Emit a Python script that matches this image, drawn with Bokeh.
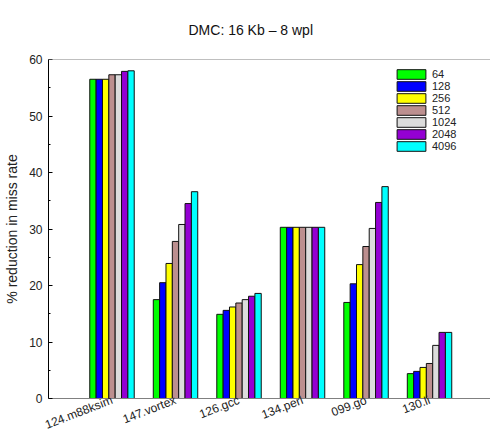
from bokeh.plotting import figure
from bokeh.models import Range1d, FixedTicker, Span, Legend, LegendItem, Title
from bokeh.embed import file_html
from bokeh.resources import INLINE

title_text = "DMC: 16 Kb \u2013 8 wpl"
benchmarks = ["124.m88ksim", "147.vortex", "126.gcc", "134.perl", "099.go", "130.li"]
sizes = ["64", "128", "256", "512", "1024", "2048", "4096"]
v64 = [56.5, 17.5, 14.9, 30.3, 17.0, 4.4]
v128 = [56.5, 20.5, 15.6, 30.3, 20.3, 4.8]
v256 = [56.5, 23.9, 16.2, 30.3, 23.7, 5.5]
v512 = [57.3, 27.8, 16.9, 30.3, 26.9, 6.2]
v1024 = [57.3, 30.8, 17.5, 30.3, 30.1, 9.4]
v2048 = [57.9, 34.5, 18.1, 30.3, 34.7, 11.7]
v4096 = [58.0, 36.6, 18.6, 30.3, 37.5, 11.7]
series = [v64, v128, v256, v512, v1024, v2048, v4096]
colors = ["#00ff00", "#0000ff", "#ffff00", "#bc8f8f", "#dcdcdc", "#9400d3", "#00ffff"]

FONT = "Liberation Sans"

p = figure(width=490, height=441, output_backend="svg", toolbar_location=None,
           x_range=Range1d(0, 6.96), y_range=Range1d(0, 60),
           min_border_left=48, min_border_right=0, min_border_top=59, min_border_bottom=43)
p.title = Title(text=title_text, align="left", vertical_align="top", text_font=FONT,
                text_font_size="14px", text_font_style="normal", text_color="#111111",
                offset=140, standoff=40)
p.outline_line_color = None
p.grid.visible = False
p.background_fill_color = "white"

bw = 0.1
legend_items = []
for j, (lab, vals, col) in enumerate(zip(sizes, series, colors)):
    xs = [i + 1 + (j - 3) * bw for i in range(len(benchmarks))]
    r = p.vbar(x=xs, top=vals, width=bw, bottom=0, fill_color=col,
               line_color="#111111", line_width=1)
    legend_items.append(LegendItem(label=lab, renderers=[r]))

# top frame line
p.add_layout(Span(location=60, dimension="width", line_color="#808080", line_width=1))

# y axis
ya = p.yaxis[0]
ya.ticker = FixedTicker(ticks=[0, 10, 20, 30, 40, 50, 60],
                        minor_ticks=[5, 15, 25, 35, 45, 55])
ya.axis_label = "% reduction in miss rate"
ya.axis_label_text_font = FONT
ya.axis_label_text_font_size = "14px"
ya.axis_label_text_font_style = "normal"
ya.axis_label_text_color = "#222222"
ya.axis_label_standoff = 6
ya.major_label_text_font = FONT
ya.major_label_text_font_size = "12px"
ya.major_label_text_color = "#222222"
ya.major_label_standoff = 6
ya.major_tick_in = 4
ya.major_tick_out = 0
ya.minor_tick_in = 2
ya.minor_tick_out = 0
ya.axis_line_color = "black"

# x axis
xa = p.xaxis[0]
xa.ticker = FixedTicker(ticks=list(range(1, len(benchmarks) + 1)), minor_ticks=[])
xa.major_label_overrides = {i + 1: b for i, b in enumerate(benchmarks)}
xa.major_label_orientation = 0.37
xa.major_label_text_font = FONT
xa.major_label_text_font_size = "12px"
xa.major_label_text_color = "#222222"
xa.major_label_standoff = 1
xa.major_tick_in = 0
xa.major_tick_out = 0
xa.minor_tick_in = 0
xa.minor_tick_out = 0
xa.axis_line_color = "#808080"

legend = Legend(items=legend_items, location=(345, 246), glyph_width=36, glyph_height=12,
                label_height=12, spacing=0, padding=0, margin=0, label_standoff=3,
                label_text_font=FONT, label_text_font_size="11px", label_text_color="#222222",
                label_text_line_height=0.9,
                border_line_color=None, background_fill_alpha=0)
p.add_layout(legend)

open("out.html", "w").write(file_html(p, INLINE))
